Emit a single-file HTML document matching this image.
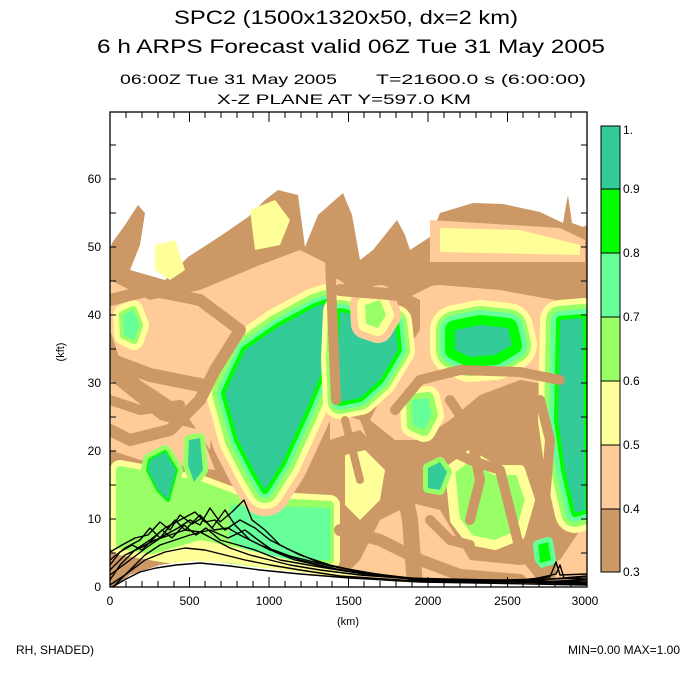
<!DOCTYPE html>
<html><head><style>
body{margin:0;background:#fff;width:700px;height:700px;overflow:hidden}
svg{display:block}
text{font-family:"Liberation Sans",sans-serif;fill:#000}
</style></head><body>
<svg width="700" height="700" viewBox="0 0 700 700" xmlns="http://www.w3.org/2000/svg">
<defs>
<clipPath id="pc"><rect x="110" y="112" width="477" height="475"/></clipPath>
<path id="A" d="M225,393 L245,350 L278,327 L315,307 L327,303 L327,360 L305,413 L282,463 L265,490 L255,473 L238,440 Z"/>
<path id="A2" d="M340,312 L370,318 L395,322 L398,350 L380,380 L360,398 L340,402 L338,360 Z"/>
<path id="B" d="M455,330 L480,325 L508,328 L512,345 L495,355 L470,357 L455,350 Z"/>
<path id="C" d="M560,320 L583,318 L585,510 L575,513 L565,470 L558,420 Z"/>
<path id="D1" d="M150,460 L165,452 L176,470 L168,500 L158,490 L148,470 Z"/>
<path id="D2" d="M189,440 L200,438 L203,470 L194,482 L188,465 Z"/>
<path id="E" d="M428,468 L440,462 L447,472 L440,490 L428,488 Z"/>
<path id="F" d="M365,305 L380,300 L386,315 L378,328 L366,324 Z"/>
<path id="G" d="M412,400 L428,398 L432,415 L424,430 L413,425 Z"/>
<path id="H" d="M123,315 L133,310 L139,325 L134,340 L124,335 Z"/>
<path id="J" d="M538,545 L548,542 L551,560 L540,563 Z"/>
<path id="K" d="M450,470 L470,455 L495,470 L520,470 L530,500 L520,535 L495,545 L470,540 L455,520 Z"/>
<path id="M" d="M120,470 L200,485 L240,500 L330,505 L330,560 L250,565 L180,555 L120,545 Z"/>
</defs>
<g clip-path="url(#pc)" stroke-linejoin="round">
<path fill="#cc9966" d="M110,250 L112,243 L125,225 L138,205 L145,213 L140,245 L130,270 L165,280 L188,257 L222,235 L248,217 L265,200 L278,190 L298,195 L305,247 L318,215 L335,200 L343,193 L352,215 L360,260 L373,250 L385,235 L397,220 L405,235 L410,250 L430,237 L440,213 L473,203 L503,204 L540,212 L563,223 L566,205 L568,195 L572,223 L583,227 L587,225 L587,587 L110,587 Z"/>
<g fill="#ffcc99">
<path d="M150,300 L200,290 L260,265 L300,250 L330,265 L330,300 L300,305 L260,320 L230,345 L215,380 L210,450 L190,420 L170,400 L140,380 L120,360 L110,330 L110,280 Z"/>
<path d="M340,295 L400,290 L420,300 L420,330 L400,360 L380,400 L370,420 L395,440 L420,440 L450,420 L480,395 L520,380 L550,385 L555,300 L500,290 L440,285 Z"/>
<path d="M330,410 L360,420 L380,470 L400,500 L440,510 L470,560 L520,565 L560,560 L587,520 L587,587 L330,587 Z"/>
<path d="M110,380 L160,420 L200,430 L215,470 L140,460 L110,450 Z"/>
<path d="M430,220 L560,228 L585,240 L585,262 L430,262 Z"/>
</g>
<g fill="#cc9966">
<path d="M330,440 L360,430 L380,450 L420,440 L450,455 L460,480 L420,500 L380,520 L360,560 L340,580 L330,540 Z"/>
<path d="M480,410 L520,390 L540,400 L530,430 L500,440 L470,460 L460,440 Z"/>
<path d="M545,520 L560,540 L555,580 L540,580 Z"/>
</g>
<g fill="#ffff99">
<path d="M440,228 L520,230 L580,245 L580,255 L440,252 Z"/>
<path d="M345,455 L365,450 L385,470 L380,500 L360,520 L345,505 Z"/>
<path d="M470,490 L500,480 L520,500 L510,530 L480,530 Z"/>
<path d="M155,245 L175,240 L185,270 L170,280 L155,270 Z"/>
<path d="M250,210 L275,200 L290,220 L280,245 L255,250 Z"/>
</g>
<use href="#M" fill="#ffff99" stroke="#ffff99" stroke-width="20"/>
<use href="#M" fill="#99ff66" stroke="#99ff66" stroke-width="8"/>
<path fill="#66ff99" d="M230,505 L330,508 L330,560 L260,560 L230,540 Z"/>
<g>
<use href="#A" fill="#ffcc99" stroke="#ffcc99" stroke-width="52"/>
<use href="#A" fill="#ffff99" stroke="#ffff99" stroke-width="38"/>
<use href="#A" fill="#99ff66" stroke="#99ff66" stroke-width="26"/>
<use href="#A" fill="#66ff99" stroke="#66ff99" stroke-width="16"/>
<use href="#A" fill="#00ff00" stroke="#00ff00" stroke-width="8"/>
<use href="#A" fill="#33cc99"/>
<use href="#A2" fill="#ffff99" stroke="#ffff99" stroke-width="34"/>
<use href="#A2" fill="#99ff66" stroke="#99ff66" stroke-width="24"/>
<use href="#A2" fill="#66ff99" stroke="#66ff99" stroke-width="16"/>
<use href="#A2" fill="#00ff00" stroke="#00ff00" stroke-width="8"/>
<use href="#A2" fill="#33cc99"/>
<use href="#B" fill="#ffff99" stroke="#ffff99" stroke-width="50"/>
<use href="#B" fill="#99ff66" stroke="#99ff66" stroke-width="38"/>
<use href="#B" fill="#66ff99" stroke="#66ff99" stroke-width="30"/>
<use href="#B" fill="#00ff00" stroke="#00ff00" stroke-width="20"/>
<use href="#B" fill="#33cc99"/>
<use href="#C" fill="#ffff99" stroke="#ffff99" stroke-width="40"/>
<use href="#C" fill="#99ff66" stroke="#99ff66" stroke-width="28"/>
<use href="#C" fill="#66ff99" stroke="#66ff99" stroke-width="18"/>
<use href="#C" fill="#00ff00" stroke="#00ff00" stroke-width="8"/>
<use href="#C" fill="#33cc99"/>
<use href="#K" fill="#99ff66" stroke="#ffff99" stroke-width="10"/>
<use href="#D1" fill="#99ff66" stroke="#99ff66" stroke-width="14"/>
<use href="#D1" fill="#00ff00" stroke="#00ff00" stroke-width="4"/>
<use href="#D1" fill="#33cc99"/>
<use href="#D2" fill="#99ff66" stroke="#99ff66" stroke-width="10"/>
<use href="#D2" fill="#33cc99"/>
<use href="#E" fill="#66ff99" stroke="#99ff66" stroke-width="10"/>
<use href="#E" fill="#33cc99"/>
<use href="#F" fill="#ffcc99" stroke="#ffcc99" stroke-width="30"/>
<use href="#F" fill="#ffff99" stroke="#ffff99" stroke-width="16"/>
<use href="#F" fill="#99ff66"/>
<use href="#G" fill="#ffff99" stroke="#ffff99" stroke-width="24"/>
<use href="#G" fill="#99ff66" stroke="#99ff66" stroke-width="12"/>
<use href="#G" fill="#66ff99"/>
<use href="#H" fill="#ffff99" stroke="#ffff99" stroke-width="20"/>
<use href="#H" fill="#99ff66" stroke="#99ff66" stroke-width="8"/>
<use href="#H" fill="#66ff99"/>
<use href="#J" fill="#66ff99" stroke="#66ff99" stroke-width="10"/>
<use href="#J" fill="#00ff00"/>
</g>
<g fill="none" stroke="#cc9966" stroke-linecap="round">
<path d="M330,262 L333,330 L336,400" stroke-width="10"/>
<path d="M340,290 L400,295 L450,270 L585,268" stroke-width="12"/>
<path d="M395,410 L420,380 L460,370 L520,372 L560,380" stroke-width="10"/>
<path d="M110,300 L150,290 L200,300 L240,330 L215,370 L200,400 L170,430 L130,440 L110,430" stroke-width="12"/>
<path d="M350,440 L400,450 L440,445 L470,460 L500,470 L520,550 L540,575" stroke-width="10"/>
<path d="M110,360 L150,375 L200,385" stroke-width="14"/>
<path d="M110,400 L140,410 L180,405" stroke-width="10"/>
<path d="M400,470 L410,520 L415,587" stroke-width="16"/>
<path d="M340,530 L380,540 L420,560 L460,575 L520,580" stroke-width="12"/>
<path d="M450,400 L470,430 L480,480 L470,520" stroke-width="10"/>
<path d="M540,400 L550,440 L545,500" stroke-width="10"/>
<path d="M345,420 L360,480" stroke-width="8"/>
<path d="M430,520 L450,540 L470,545" stroke-width="10"/>
</g>
<path fill="#fff" d="M115,587 L130,575 L160,565 L200,560 L240,565 L280,570 L330,576 L400,582 L587,586 L587,587 Z"/>
<path fill="#ffff99" d="M150,555 L200,540 L240,548 L290,560 L340,570 L380,576 L330,576 L280,570 L230,563 L180,560 Z"/>
<g fill="none" stroke="#000" stroke-width="1.4">
<polyline points="110,570 125,555 140,548 155,540 170,535 185,530 200,532 215,540 230,548 250,555 270,560 290,565 320,570 360,575 400,578 450,580 500,580 550,579 587,578"/>
<polyline points="110,560 125,548 140,540 150,528 160,538 175,520 185,530 200,515 212,528 225,510 235,525 250,540 270,550 300,560 340,570 380,576 420,579 480,581 540,580 587,576"/>
<polyline points="110,575 130,560 150,545 165,535 178,528 190,520 200,525 210,508 220,522 232,512 244,500 252,520 265,530 280,545 300,555 330,565 370,574 420,580 500,582 550,577 556,562 560,575 587,574"/>
<polyline points="110,580 120,565 135,550 150,540 165,528 180,520 195,512 205,522 215,520 225,530 240,520 255,528 270,540 290,550 320,563 360,572 410,578 470,581 530,582 587,580"/>
<polyline points="110,585 125,575 145,560 165,552 185,548 205,550 225,555 245,560 270,565 300,570 340,576 400,580 460,582 520,582 556,574 560,565 564,578 587,580"/>
<polyline points="115,585 130,570 145,555 160,545 175,540 190,535 210,530 228,538 245,530 258,540 275,552 295,560 330,568 380,576 440,580 587,583"/>
<polyline points="110,565 120,552 132,545 142,550 152,540 162,530 172,538 184,525 196,535 206,528 220,540 238,545 255,550 280,560 320,567 370,575 430,580 587,584"/>
<polyline points="112,587 128,578 140,572 156,568 176,565 200,563 230,566 260,570 300,574 350,578 420,582 587,585"/>
<polyline points="110,552 122,545 135,538 148,535 160,522 170,530 180,515 192,524 202,518 214,530 228,528 240,535 260,545 290,556 330,566 400,578 587,582"/>
</g>
</g>
<rect x="110" y="112" width="477" height="475" fill="none" stroke="#000" stroke-width="1.3"/>
<g stroke="#000" stroke-width="1">
<path d="M110,112v10M189.5,112v10M269,112v10M348.5,112v10M428,112v10M507.5,112v10M587,112v10
M110,587v-10M189.5,587v-10M269,587v-10M348.5,587v-10M428,587v-10M507.5,587v-10M587,587v-10
M126,112v6M142,112v6M158,112v6M174,112v6M205,112v6M221,112v6M237,112v6M253,112v6M285,112v6M301,112v6M317,112v6M332,112v6M364,112v6M380,112v6M396,112v6M412,112v6M444,112v6M460,112v6M476,112v6M491,112v6M523,112v6M539,112v6M555,112v6M571,112v6
M126,587v-6M142,587v-6M158,587v-6M174,587v-6M205,587v-6M221,587v-6M237,587v-6M253,587v-6M285,587v-6M301,587v-6M317,587v-6M332,587v-6M364,587v-6M380,587v-6M396,587v-6M412,587v-6M444,587v-6M460,587v-6M476,587v-6M491,587v-6M523,587v-6M539,587v-6M555,587v-6M571,587v-6
M110,553h6M110,519h6M110,485h6M110,451h6M110,417h6M110,383h6M110,349h6M110,315h6M110,281h6M110,247h6M110,213h6M110,179h6M110,145h6
M587,553h-6M587,519h-6M587,485h-6M587,451h-6M587,417h-6M587,383h-6M587,349h-6M587,315h-6M587,281h-6M587,247h-6M587,213h-6M587,179h-6M587,145h-6"/>
</g>
<text x="346" y="24" font-size="19" text-anchor="middle" textLength="344" lengthAdjust="spacingAndGlyphs">SPC2 (1500x1320x50, dx=2 km)</text>
<text x="351" y="53" font-size="19" text-anchor="middle" textLength="508" lengthAdjust="spacingAndGlyphs">6 h ARPS Forecast valid 06Z Tue 31 May 2005</text>
<text x="120" y="84" font-size="14" textLength="217" lengthAdjust="spacingAndGlyphs">06:00Z Tue 31 May 2005</text>
<text x="376" y="84" font-size="14" textLength="210" lengthAdjust="spacingAndGlyphs">T=21600.0 s (6:00:00)</text>
<text x="344" y="104" font-size="14" text-anchor="middle" textLength="254" lengthAdjust="spacingAndGlyphs">X-Z PLANE AT Y=597.0 KM</text>
<g font-size="12" text-anchor="end">
<text x="101" y="591">0</text><text x="101" y="523">10</text><text x="101" y="455">20</text>
<text x="101" y="387">30</text><text x="101" y="319">40</text><text x="101" y="251">50</text><text x="101" y="183">60</text>
</g>
<g font-size="12" text-anchor="middle">
<text x="110" y="605">0</text><text x="189.5" y="605">500</text><text x="269" y="605">1000</text>
<text x="348.5" y="605">1500</text><text x="428" y="605">2000</text><text x="507.5" y="605">2500</text><text x="585" y="605">3000</text>
<text x="348" y="625" font-size="11">(km)</text>
</g>
<text x="0" y="0" font-size="11" text-anchor="middle" transform="translate(64,352) rotate(-90)">(kft)</text>
<text x="16" y="654" font-size="12">RH, SHADED)</text>
<text x="680" y="654" font-size="12" text-anchor="end">MIN=0.00 MAX=1.00</text>
<rect x="601" y="126" width="19" height="63" fill="#33cc99"/>
<rect x="601" y="189" width="19" height="64" fill="#00ff00"/>
<rect x="601" y="253" width="19" height="64" fill="#66ff99"/>
<rect x="601" y="317" width="19" height="64" fill="#99ff66"/>
<rect x="601" y="381" width="19" height="64" fill="#ffff99"/>
<rect x="601" y="445" width="19" height="64" fill="#ffcc99"/>
<rect x="601" y="509" width="19" height="63" fill="#cc9966"/>
<rect x="601" y="126" width="19" height="446" fill="none" stroke="#000" stroke-width="1"/>
<path d="M601,189h19M601,253h19M601,317h19M601,381h19M601,445h19M601,509h19" stroke="#000" stroke-width="1"/>
<g font-size="12">
<text x="623" y="134">1.</text><text x="623" y="193">0.9</text><text x="623" y="257">0.8</text>
<text x="623" y="321">0.7</text><text x="623" y="385">0.6</text><text x="623" y="449">0.5</text>
<text x="623" y="513">0.4</text><text x="623" y="576">0.3</text>
</g>
</svg>
</body></html>
